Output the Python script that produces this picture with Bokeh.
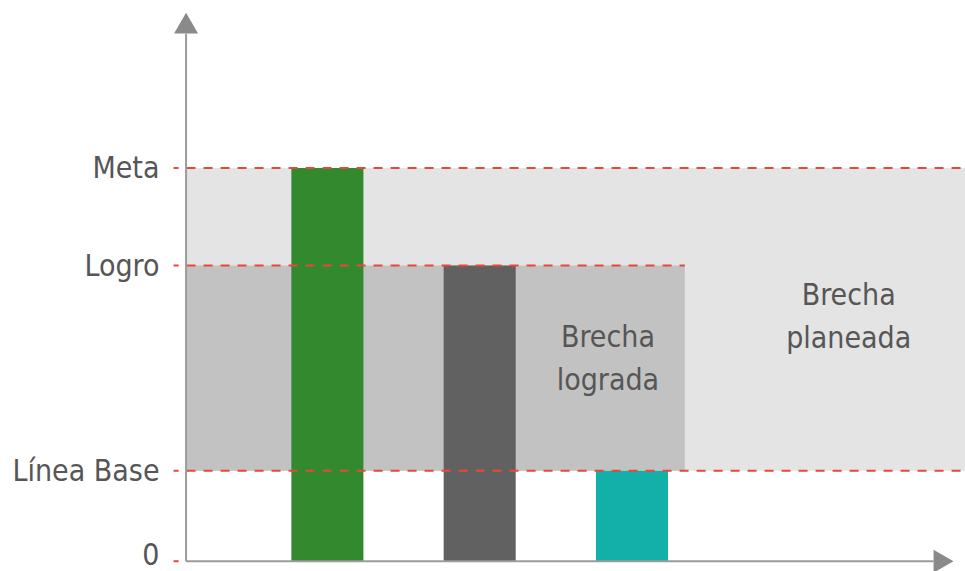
import math
from bokeh.plotting import figure
from bokeh.models import Range1d, FixedTicker
from bokeh.core.properties import value
from bokeh.embed import file_html
from bokeh.resources import INLINE

# ---- data ----
level_names = ["0", "Línea Base", "Logro", "Meta"]
level_values = [0, 20, 65.4, 87]

bar_x = [1, 2, 3]
bar_tops = [87, 65.4, 20]
bar_colors = ["#33892e", "#616161", "#13b0aa"]

gap_planned_lines = ["Brecha", "planeada"]
gap_achieved_lines = ["Brecha", "lograda"]

# ---- geometry (x in bar-slot units, y in value units) ----
AXIS_X = 0.072
DASH_START = -0.01
X_END = 5.3
ACHIEVED_END = 3.347
XAXIS_END = 4.98
BAR_W = 0.473

FONT = "'DejaVu Sans Condensed', 'Liberation Sans Narrow', 'Roboto Condensed', Roboto, sans-serif"
TXT = "#565656"
RED = "#e8473c"
AXIS_C = "#9c9c9c"
ARROW_C = "#8a8a8a"

p = figure(width=965, height=571, output_backend="svg", toolbar_location=None,
           x_range=Range1d(-0.063, 5.190), y_range=Range1d(-2.28, 124.05),
           min_border_left=165, min_border_right=0, min_border_top=0,
           min_border_bottom=0)
p.xaxis.visible = False
p.xgrid.visible = False
p.ygrid.visible = False
p.outline_line_color = None
p.background_fill_color = "white"

ya = p.yaxis[0]
ya.ticker = FixedTicker(ticks=level_values)
ya.major_label_overrides = {v: n for v, n in zip(level_values, level_names)}
ya.axis_line_color = None
ya.major_tick_line_color = None
ya.minor_tick_line_color = None
ya.major_tick_out = 0
ya.major_tick_in = 0
ya.major_label_standoff = 6
ya.major_label_text_font = FONT
ya.major_label_text_font_size = "30px"
ya.major_label_text_color = TXT

base, logro, meta = level_values[1], level_values[2], level_values[3]

# shaded gaps
p.quad(left=[AXIS_X], right=[X_END], bottom=[base], top=[meta],
       fill_color="#e4e4e4", line_color=None)
p.quad(left=[AXIS_X], right=[ACHIEVED_END], bottom=[base], top=[logro],
       fill_color="#c2c2c2", line_color=None)

# bars
p.vbar(x=bar_x, top=bar_tops, bottom=0, width=BAR_W, fill_color=bar_colors,
       line_color=None)

# dashed reference lines
dash_ends = [AXIS_X, X_END, ACHIEVED_END, X_END]
for v, e in zip(level_values, dash_ends):
    p.line(x=[DASH_START, e], y=[v, v], line_color=RED, line_width=2,
           line_dash="9 8", line_dash_offset=4)

# axes with arrows
p.line(x=[AXIS_X, AXIS_X], y=[0, 116.7], line_color=AXIS_C, line_width=2)
p.line(x=[AXIS_X, XAXIS_END], y=[0, 0], line_color=AXIS_C, line_width=2)
p.scatter(x=[AXIS_X], y=[118.3], marker="triangle", size=24,
          fill_color=ARROW_C, line_color=None)
p.scatter(x=[5.024], y=[0], marker="triangle", size=23, angle=-math.pi / 2,
          fill_color=ARROW_C, line_color=None)

# gap labels
p.text(x=[4.423, 4.423], y=[59.0, 49.6], text=gap_planned_lines,
       text_font=value(FONT), text_font_size="30px", text_color=TXT,
       text_align="center", text_baseline="alphabetic")
p.text(x=[2.842, 2.842], y=[49.8, 40.3], text=gap_achieved_lines,
       text_font=value(FONT), text_font_size="30px", text_color=TXT,
       text_align="center", text_baseline="alphabetic")

open("out.html", "w").write(file_html(p, INLINE))
